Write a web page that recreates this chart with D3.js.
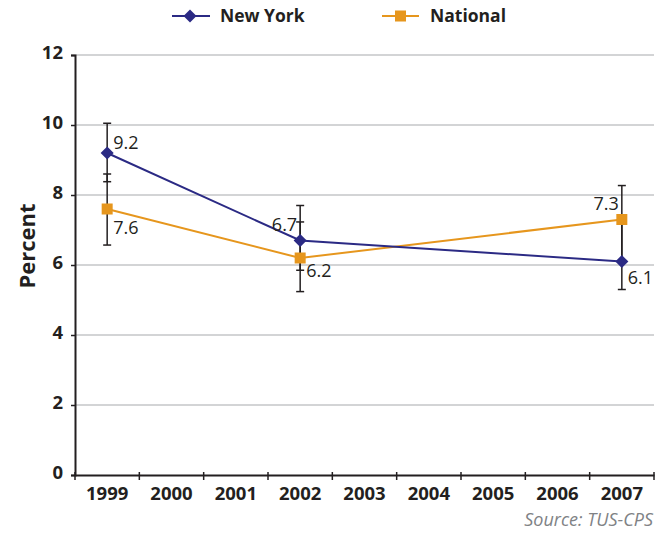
<!DOCTYPE html>
<html>
<head>
<meta charset="utf-8">
<script src="https://cdn.jsdelivr.net/npm/d3@7"></script>
<style>
  body { margin: 0; background: #fff; }
  svg text { font-family: "Open Sans", "DejaVu Sans", sans-serif; fill: #231f20; }
  .tick-label { font-weight: 700; font-size: 18.5px; }
  .val-label { font-size: 18px; }
</style>
</head>
<body>
<svg id="chart" width="663" height="533"></svg>
<script>
const YEARS = ["1999", "2000", "2001", "2002", "2003", "2004", "2005", "2006", "2007"];
const Y_TICKS = [0, 2, 4, 6, 8, 10, 12];

const NY_YEARS = ["1999", "2002", "2007"];
const NY_VALUES = [9.2, 6.7, 6.1];
const NY_LOW = [8.38, 5.85, 5.3];
const NY_HIGH = [10.05, 7.7, 7.3];

const NAT_YEARS = ["1999", "2002", "2007"];
const NAT_VALUES = [7.6, 6.2, 7.3];
const NAT_LOW = [6.57, 5.24, 6.12];
const NAT_HIGH = [8.6, 7.23, 8.27];

const NY_COLOR = "#2b2a84";
const NAT_COLOR = "#e6961d";

const svg = d3.select("#chart");
const PLOT_LEFT = 75, PLOT_RIGHT = 654, PLOT_TOP = 55, PLOT_BOTTOM = 475;

const x = d3.scaleBand().domain(YEARS).range([PLOT_LEFT, PLOT_RIGHT]).padding(0);
const y = d3.scaleLinear().domain([0, 12]).range([PLOT_BOTTOM, PLOT_TOP]);
const cx = d => x(d) + x.bandwidth() / 2;

// grid
svg.append("g")
  .selectAll("line")
  .data(Y_TICKS.filter(t => t > 0))
  .enter().append("line")
  .attr("x1", PLOT_LEFT).attr("x2", PLOT_RIGHT)
  .attr("y1", d => y(d)).attr("y2", d => y(d))
  .attr("stroke", "#a7a9ac").attr("stroke-width", 1);

// y axis
const yAxis = svg.append("g")
  .attr("transform", `translate(${PLOT_LEFT},0)`)
  .call(d3.axisLeft(y).tickValues(Y_TICKS).tickSize(4).tickPadding(8));
yAxis.select(".domain").attr("stroke", "#231f20").attr("stroke-width", 2);
yAxis.selectAll(".tick line").attr("stroke", "#231f20").attr("stroke-width", 1.5);
yAxis.selectAll(".tick text").attr("class", "tick-label").attr("font-family", null).attr("font-size", null)
  .attr("dy", "0.2em");

// x axis
const xAxis = svg.append("g")
  .attr("transform", `translate(0,${PLOT_BOTTOM})`)
  .call(d3.axisBottom(x).tickSize(0));
xAxis.select(".domain").attr("stroke", "#231f20").attr("stroke-width", 2);
xAxis.selectAll(".tick text").attr("class", "tick-label").attr("font-family", null).attr("font-size", null)
  .attr("dy", null).attr("y", 25);
xAxis.selectAll(".bound")
  .data(YEARS.concat(["end"]))
  .enter().append("line")
  .attr("x1", (d, i) => PLOT_LEFT + i * x.bandwidth())
  .attr("x2", (d, i) => PLOT_LEFT + i * x.bandwidth())
  .attr("y1", -3).attr("y2", 5)
  .attr("stroke", "#231f20").attr("stroke-width", 1.5);

// y title
svg.append("text")
  .attr("transform", "translate(35,246) rotate(-90)")
  .attr("text-anchor", "middle")
  .attr("font-weight", 700).attr("font-size", 22)
  .text("Percent");

// error bars
function errorBars(years, lo, hi) {
  const g = svg.append("g").attr("stroke", "#231f20").attr("stroke-width", 1.5);
  years.forEach((yr, i) => {
    const xx = cx(yr);
    g.append("line").attr("x1", xx).attr("x2", xx).attr("y1", y(lo[i])).attr("y2", y(hi[i]));
    [lo[i], hi[i]].forEach(v => {
      g.append("line").attr("x1", xx - 4).attr("x2", xx + 4).attr("y1", y(v)).attr("y2", y(v));
    });
  });
}
errorBars(NY_YEARS, NY_LOW, NY_HIGH);
errorBars(NAT_YEARS, NAT_LOW, NAT_HIGH);

const line = d3.line().x(d => cx(d[0])).y(d => y(d[1]));

// national
svg.append("path")
  .datum(d3.zip(NAT_YEARS, NAT_VALUES))
  .attr("d", line).attr("fill", "none")
  .attr("stroke", NAT_COLOR).attr("stroke-width", 2);
svg.append("g").selectAll("rect")
  .data(d3.zip(NAT_YEARS, NAT_VALUES))
  .enter().append("rect")
  .attr("x", d => cx(d[0]) - 5.5).attr("y", d => y(d[1]) - 5.5)
  .attr("width", 11).attr("height", 11)
  .attr("fill", NAT_COLOR);

// new york
svg.append("path")
  .datum(d3.zip(NY_YEARS, NY_VALUES))
  .attr("d", line).attr("fill", "none")
  .attr("stroke", NY_COLOR).attr("stroke-width", 2);
const diamond = d3.symbol().type(d3.symbolSquare).size(85);
svg.append("g").selectAll("path")
  .data(d3.zip(NY_YEARS, NY_VALUES))
  .enter().append("path")
  .attr("d", diamond)
  .attr("transform", d => `translate(${cx(d[0])},${y(d[1])}) rotate(45)`)
  .attr("fill", NY_COLOR);

// value labels
const NY_LABEL_POS = [[6, -4, "start"], [-3, -10, "end"], [6, 22, "start"]];
const NAT_LABEL_POS = [[6, 25, "start"], [6, 19, "start"], [-3, -10, "end"]];
function valueLabels(years, vals, pos) {
  years.forEach((yr, i) => {
    svg.append("text")
      .attr("class", "val-label")
      .attr("x", cx(yr) + pos[i][0])
      .attr("y", y(vals[i]) + pos[i][1])
      .attr("text-anchor", pos[i][2])
      .text(vals[i].toFixed(1));
  });
}
valueLabels(NY_YEARS, NY_VALUES, NY_LABEL_POS);
valueLabels(NAT_YEARS, NAT_VALUES, NAT_LABEL_POS);

// legend
const legend = svg.append("g");
legend.append("line").attr("x1", 172).attr("x2", 210).attr("y1", 16).attr("y2", 16)
  .attr("stroke", NY_COLOR).attr("stroke-width", 2);
legend.append("path").attr("d", diamond)
  .attr("transform", "translate(190,16) rotate(45)").attr("fill", NY_COLOR);
legend.append("text").attr("x", 220).attr("y", 22)
  .attr("font-weight", 700).attr("font-size", 17.5).text("New York");
legend.append("line").attr("x1", 382).attr("x2", 419).attr("y1", 16).attr("y2", 16)
  .attr("stroke", NAT_COLOR).attr("stroke-width", 2);
legend.append("rect").attr("x", 395).attr("y", 10.5).attr("width", 11).attr("height", 11)
  .attr("fill", NAT_COLOR);
legend.append("text").attr("x", 430).attr("y", 22)
  .attr("font-weight", 700).attr("font-size", 17.5).text("National");

// source
svg.append("text")
  .attr("x", 653).attr("y", 526)
  .attr("text-anchor", "end")
  .attr("font-style", "italic").attr("font-size", 18)
  .style("fill", "#808285")
  .text("Source: TUS-CPS");
</script>
</body>
</html>
